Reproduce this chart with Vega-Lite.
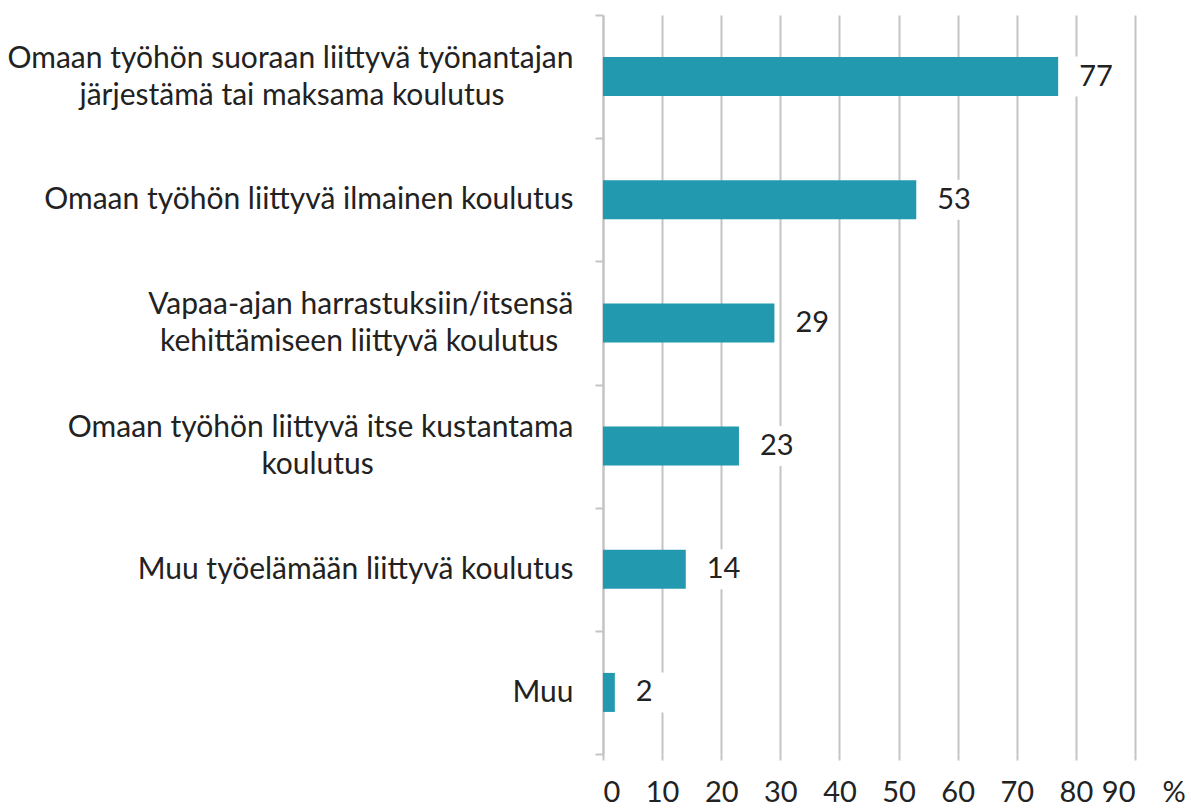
{
  "$schema": "https://vega.github.io/schema/vega-lite/v6.json",
  "autosize": "none",
  "width": 532,
  "height": 739,
  "padding": {"left": 603, "top": 15, "right": 56, "bottom": 55},
  "background": "white",
  "config": {"view": {"stroke": null}, "font": "Lato"},
  "data": {"values": [
    {"cat": "Omaan työhön suoraan liittyvä työnantajan|\u200b|järjestämä tai maksama koulutus\u00a0\u00a0\u00a0\u00a0\u00a0\u00a0\u00a0\u00a0\u00a0\u200b", "value": 77},
    {"cat": "\u200b|Omaan työhön liittyvä ilmainen koulutus", "value": 53},
    {"cat": "Vapaa-ajan harrastuksiin/itsensä|\u200b|kehittämiseen liittyvä koulutus\u00a0\u00a0\u200b", "value": 29},
    {"cat": "Omaan työhön liittyvä itse kustantama|\u200b|koulutus\u00a0\u00a0\u00a0\u00a0\u00a0\u00a0\u00a0\u00a0\u00a0\u00a0\u00a0\u00a0\u00a0\u00a0\u00a0\u00a0\u00a0\u00a0\u00a0\u00a0\u00a0\u00a0\u00a0\u00a0\u00a0\u00a0\u200b", "value": 23},
    {"cat": "\u200b|Muu työelämään liittyvä koulutus", "value": 14},
    {"cat": "\u200b|Muu", "value": 2}
  ]},
  "encoding": {
    "y": {"field": "cat", "type": "nominal", "sort": null,
      "scale": {"paddingInner": 0, "paddingOuter": 0},
      "axis": {"title": null, "labelExpr": "split(datum.label, '|')", "labelLimit": 700,
        "labelFont": "Lato", "labelFontSize": 30, "labelColor": "#222", "labelLineHeight": 18.5,
        "labelOffset": -18.5, "labelPadding": 22,
        "tickBand": "extent", "tickSize": 8, "tickColor": "#c4c4c4", "tickWidth": 2,
        "domainColor": "#c4c4c4", "domainWidth": 2, "grid": false}}
  },
  "layer": [
    {"mark": {"type": "bar", "color": "#2399b0", "size": 39},
     "encoding": {"x": {"field": "value", "type": "quantitative",
       "scale": {"domain": [0, 90]},
       "axis": {"values": [0,10,20,30,40,50,60,70,80,90], "grid": true, "gridColor": "#c4c4c4", "gridWidth": 2,
         "domain": false, "ticks": true, "tickSize": 6, "tickColor": "#c4c4c4", "tickWidth": 2,
         "labelFont": "Lato", "labelFontSize": 29, "labelColor": "#222", "labelPadding": 18,
         "title": "%", "titleFont": "Lato", "titleFontSize": 29, "titleFontWeight": "normal", "titleColor": "#222",
         "titleX": 559, "titleY": 47, "titleAlign": "left", "titleBaseline": "alphabetic"}}}},
    {"mark": {"type": "bar", "color": "white", "size": 40, "xOffset": 10, "x2Offset": 58},
     "encoding": {"x": {"field": "value", "type": "quantitative"}, "x2": {"field": "value"}}},
    {"mark": {"type": "text", "align": "left", "dx": 21, "font": "Lato", "fontSize": 29, "color": "#222"},
     "encoding": {"x": {"field": "value", "type": "quantitative"}, "text": {"field": "value"}}}
  ]
}
